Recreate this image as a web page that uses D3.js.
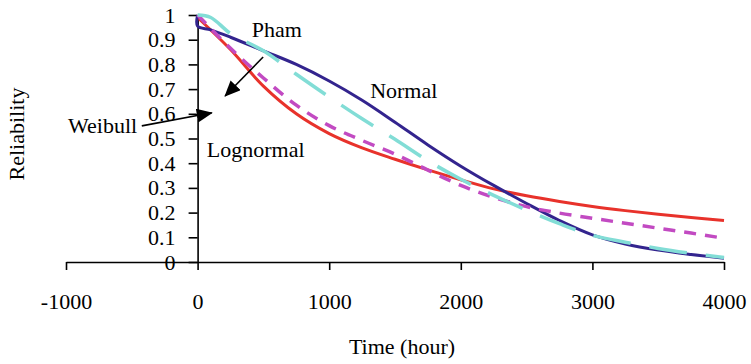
<!DOCTYPE html>
<html>
<head>
	<meta charset="utf-8">
	<script src="https://d3js.org/d3.v7.min.js"></script>
	<title>Reliability</title>
	<style type="text/css">
		body {
			margin: 0;
			background: #fff;
		}
		text {
			font-family: "Liberation Serif", "Times New Roman", serif;
			font-size: 22px;
			fill: #000;
		}
	</style>
</head>
<body>
	<div id="chartContainer"></div>
	<script type="text/javascript">
		// data
		var time = [0, 250, 500, 750, 1000, 1250, 1500, 1750, 2000, 2250, 2500, 2750, 3000, 3250, 3500, 3750, 4000];
		var timeNormal = [0, 0, 100, 250, 500, 750, 1000, 1250, 1500, 1750, 2000, 2250, 2500, 2750, 3000, 3250, 3500, 3750, 4000];
		var timePham = [0, 100, 250, 500, 750, 1000, 1250, 1500, 1750, 2000, 2250, 2500, 2750, 3000, 3250, 3500, 3750, 4000];

		var normal = [1, 0.955, 0.94, 0.91, 0.855, 0.8, 0.733, 0.655, 0.566, 0.474, 0.388, 0.31, 0.237, 0.168, 0.11, 0.073, 0.048, 0.03, 0.015];
		var lognormal = [0.99, 0.86, 0.712, 0.6, 0.52, 0.462, 0.416, 0.373, 0.333, 0.296, 0.268, 0.245, 0.225, 0.208, 0.193, 0.18, 0.168];
		var weibull = [1, 0.865, 0.745, 0.635, 0.552, 0.492, 0.437, 0.372, 0.31, 0.262, 0.224, 0.198, 0.177, 0.157, 0.137, 0.117, 0.096];
		var pham = [1, 0.99, 0.925, 0.855, 0.76, 0.668, 0.58, 0.497, 0.41, 0.335, 0.27, 0.21, 0.155, 0.108, 0.08, 0.055, 0.035, 0.018];

		var xTicks = [-1000, 0, 1000, 2000, 3000, 4000];
		var yTicks = [0, 0.1, 0.2, 0.3, 0.4, 0.5, 0.6, 0.7, 0.8, 0.9, 1];

		var width = 751, height = 364;
		var svg = d3.select('#chartContainer').append('svg')
			.attr('width', width)
			.attr('height', height);

		var x = d3.scaleLinear().domain([-1000, 4000]).range([66, 724]);
		var y = d3.scaleLinear().domain([0, 1]).range([262, 15]);

		// x axis
		var xAxis = svg.append('g')
			.attr('transform', 'translate(0,' + y(0) + ')')
			.call(d3.axisBottom(x).tickValues(xTicks).tickSize(8).tickSizeOuter(0).tickFormat(d3.format('d')));
		xAxis.selectAll('text').attr('y', 31).attr('dy', '0.71em').text(function (d) { return d < 0 ? '-' + Math.abs(d) : d; });

		// y axis
		var yAxis = svg.append('g')
			.attr('transform', 'translate(' + x(0) + ',0)')
			.call(d3.axisLeft(y).tickValues(yTicks).tickSize(9).tickSizeOuter(0).tickPadding(13).tickFormat(function (d) { return d3.format('~g')(d); }));

		svg.selectAll('g').attr('font-family', null).attr('font-size', null);
		svg.selectAll('.domain, .tick line').attr('stroke', '#000').attr('stroke-width', 1.6);

		// curves
		var line = d3.line()
			.x(function (d) { return x(d[0]); })
			.y(function (d) { return y(d[1]); })
			.curve(d3.curveCatmullRom.alpha(0.5));

		function pairs(t, v) {
			return t.map(function (d, i) { return [d, v[i]]; });
		}

		svg.append('path').datum(pairs(time, lognormal))
			.attr('fill', 'none').attr('stroke', '#e8322b').attr('stroke-width', 3)
			.attr('d', line);
		svg.append('path').datum(pairs(timeNormal, normal))
			.attr('fill', 'none').attr('stroke', '#33248e').attr('stroke-width', 3)
			.attr('d', line);
		svg.append('path').datum(pairs(time, weibull))
			.attr('fill', 'none').attr('stroke', '#c24ac2').attr('stroke-width', 3.5)
			.attr('stroke-dasharray', '12,9')
			.attr('d', line);
		svg.append('path').datum(pairs(timePham, pham))
			.attr('fill', 'none').attr('stroke', '#82ddd6').attr('stroke-width', 3.5)
			.attr('stroke-dasharray', '38,19')
			.attr('d', line);

		// arrows
		svg.append('defs').append('marker')
			.attr('id', 'head')
			.attr('markerUnits', 'userSpaceOnUse')
			.attr('viewBox', '0 0 16 14')
			.attr('markerWidth', 16)
			.attr('markerHeight', 14)
			.attr('refX', 15)
			.attr('refY', 7)
			.attr('orient', 'auto')
			.append('path')
			.attr('d', 'M0,0L16,7L0,14Z')
			.attr('fill', '#000');

		var arrows = [
			[[498, 0.83], [209, 0.672]],
			[[-424, 0.551], [108, 0.604]]
		];
		arrows.forEach(function (a) {
			svg.append('line')
				.attr('x1', x(a[0][0])).attr('y1', y(a[0][1]))
				.attr('x2', x(a[1][0])).attr('y2', y(a[1][1]))
				.attr('stroke', '#000').attr('stroke-width', 1.6)
				.attr('marker-end', 'url(#head)');
		});

		// labels
		var labels = [
			['Pham', 412, 0.912],
			['Normal', 1311, 0.664],
			['Weibull', -984, 0.522],
			['Lognormal', 70, 0.426]
		];
		labels.forEach(function (l) {
			svg.append('text').attr('x', x(l[1])).attr('y', y(l[2])).text(l[0]);
		});

		// axis titles
		svg.append('text')
			.attr('x', 402).attr('y', 354)
			.style('text-anchor', 'middle')
			.text('Time (hour)');
		svg.append('text')
			.attr('transform', 'translate(24,134) rotate(-90)')
			.style('text-anchor', 'middle')
			.text('Reliability');
	</script>
</body>
</html>
